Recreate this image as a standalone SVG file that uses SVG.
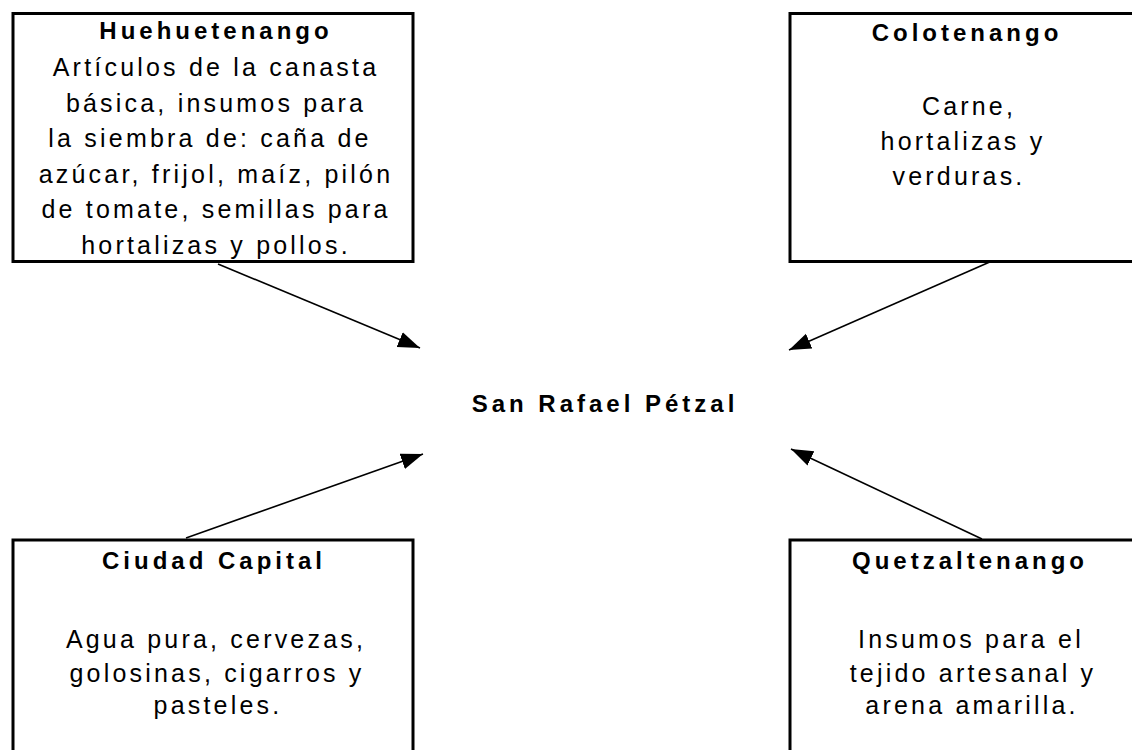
<svg xmlns="http://www.w3.org/2000/svg" width="1132" height="750" viewBox="0 0 1132 750">
<defs>
<style>
.box{fill:#fff;stroke:#000;stroke-width:3}
.t{font-family:"Liberation Sans",Arial,sans-serif;font-size:24px;font-weight:bold;letter-spacing:4px;text-anchor:middle;fill:#000}
.b{font-family:"Liberation Sans",Arial,sans-serif;font-size:25px;letter-spacing:3.2px;text-anchor:middle;fill:#000}
.c{stroke:#000;stroke-width:1.6;fill:none;marker-end:url(#ah)}
</style>
<marker id="ah" markerUnits="userSpaceOnUse" markerWidth="24" markerHeight="18" refX="22" refY="8" orient="auto">
<path d="M0,0 L22,8 L0,16 z" fill="#000"/>
</marker>
</defs>
<rect width="1132" height="750" fill="#fff"/>
<g id="huehuetenango">
<rect class="box" x="13" y="13.5" width="400" height="248"/>
<text class="t" x="216" y="39">Huehuetenango</text>
<text class="b" x="216" y="76">Artículos de la canasta</text>
<text class="b" x="216" y="111.5">básica, insumos para</text>
<text class="b" x="210" y="147">la siembra de: caña de</text>
<text class="b" x="216" y="182.5">azúcar, frijol, maíz, pilón</text>
<text class="b" x="216" y="218">de tomate, semillas para</text>
<text class="b" x="216" y="254">hortalizas y pollos.</text>
</g>
<g id="colotenango">
<rect class="box" x="790" y="13.5" width="360" height="248"/>
<text class="t" x="967" y="41">Colotenango</text>
<text class="b" x="969" y="115">Carne,</text>
<text class="b" x="963" y="150">hortalizas y</text>
<text class="b" x="959" y="185">verduras.</text>
</g>
<g id="san-rafael">
<text class="t" x="605" y="412">San Rafael Pétzal</text>
</g>
<g id="ciudad-capital">
<rect class="box" x="13" y="540" width="400" height="230"/>
<text class="t" x="214" y="569">Ciudad Capital</text>
<text class="b" x="216" y="648">Agua pura, cervezas,</text>
<text class="b" x="217" y="682">golosinas, cigarros y</text>
<text class="b" x="218" y="714">pasteles.</text>
</g>
<g id="quetzaltenango">
<rect class="box" x="790" y="540" width="360" height="230"/>
<text class="t" x="970" y="569">Quetzaltenango</text>
<text class="b" x="971" y="648">Insumos para el</text>
<text class="b" x="973" y="682">tejido artesanal y</text>
<text class="b" x="972" y="714">arena amarilla.</text>
</g>
<g id="connectors">
<line class="c" x1="218" y1="264" x2="420" y2="348"/>
<line class="c" x1="992" y1="261" x2="789" y2="350"/>
<line class="c" x1="186" y1="538" x2="423" y2="454"/>
<line class="c" x1="982" y1="539" x2="791" y2="449"/>
</g>
</svg>
